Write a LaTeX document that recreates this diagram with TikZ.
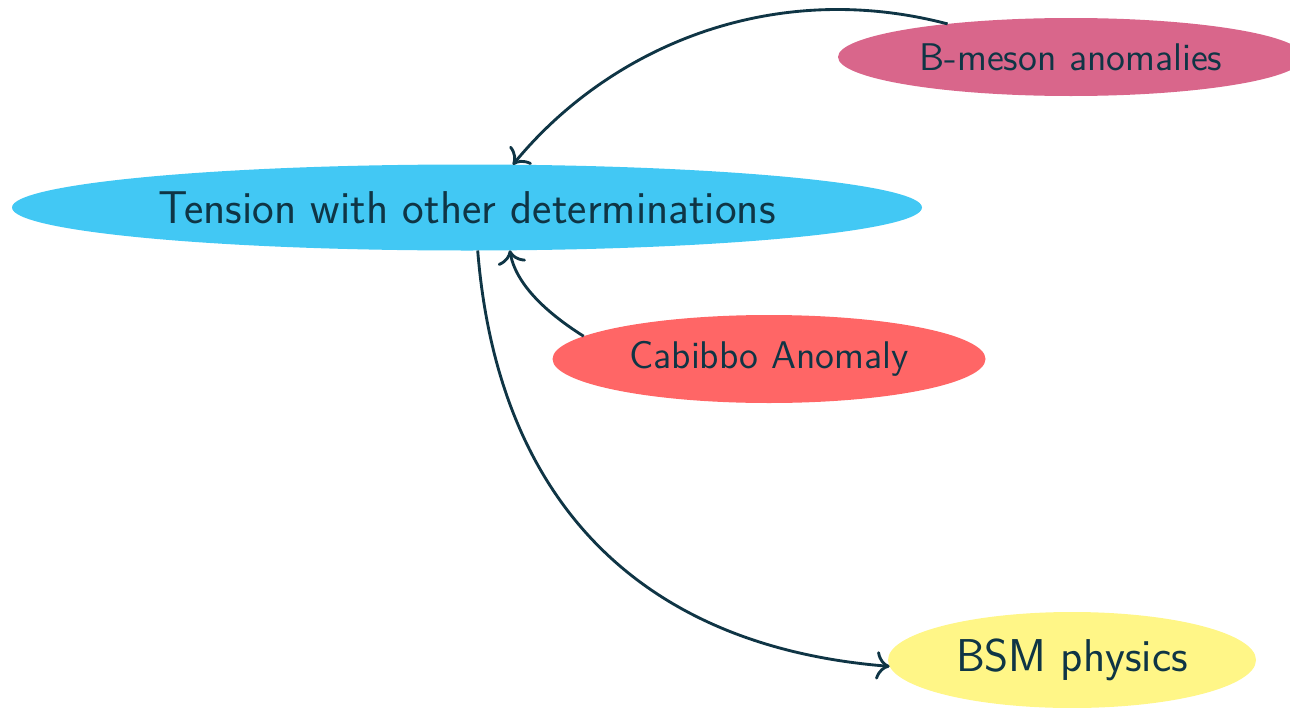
\documentclass[tikz,border=0pt]{standalone}
\usetikzlibrary{shapes.geometric,arrows.meta}
\definecolor{inkc}{HTML}{0F3545}
\definecolor{tensc}{HTML}{42C8F4}
\definecolor{bmesc}{HTML}{D9668B}
\definecolor{cabc}{HTML}{FF6666}
\definecolor{bsmc}{HTML}{FFF687}
\begin{document}
\begin{tikzpicture}[x=0.35pt,y=-0.35pt,
  blob/.style={ellipse,inner sep=0pt,outer sep=0pt,text=inkc},
  bigtext/.style={font=\sffamily\fontsize{16.1}{19}\selectfont},
  smalltext/.style={font=\sffamily\fontsize{13.5}{16}\selectfont},
  link/.style={-{To[scale=1.25]},draw=inkc,line width=1pt}]
\useasboundingbox (0,0) rectangle (1290,707);
\node[blob,bigtext,fill=tensc,minimum width=910*0.35pt,minimum height=86*0.35pt] (t) at (467,207.5) {Tension with other determinations};
\node[blob,smalltext,fill=bmesc,minimum width=466*0.35pt,minimum height=78*0.35pt] (bm) at (1071,57) {B-meson anomalies};
\node[blob,smalltext,fill=cabc,minimum width=433*0.35pt,minimum height=88*0.35pt] (c) at (769,359) {Cabibbo Anomaly};
\node[blob,bigtext,fill=bsmc,minimum width=368*0.35pt,minimum height=96*0.35pt] (b) at (1072,660) {BSM physics};
\draw[link] (bm.165) .. controls +(-175,-46) and +(97,-118) .. (t.43);
\draw[link] (c.173) .. controls +(-35,-22) and +(6,35) .. (t.-45);
\draw[link] (t.-76) .. controls +(20,250) and +(-250,-20) .. (b.182);
\end{tikzpicture}
\end{document}
